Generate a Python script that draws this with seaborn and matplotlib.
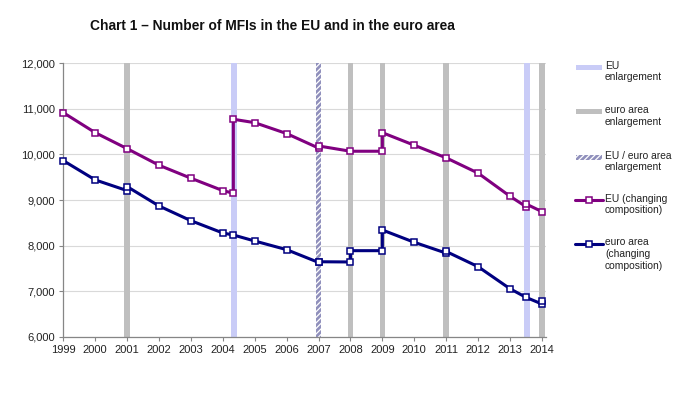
import numpy as np
import pandas as pd
import matplotlib
matplotlib.use("Agg")
import matplotlib.pyplot as plt
from matplotlib.lines import Line2D
from matplotlib.patches import Rectangle
from matplotlib.ticker import FuncFormatter
import seaborn as sns

# Number of MFIs (mid-year enlargements give two points at one date)
eu_years = [1999, 2000, 2001, 2002, 2003, 2004, 2004.33, 2004.33, 2005, 2006,
            2007, 2007, 2008, 2009, 2009, 2010, 2011, 2012, 2013, 2013.5, 2013.5, 2014]
eu_counts = [10917, 10478, 10127, 9763, 9478, 9206, 9149, 10772, 10697, 10458,
             10140, 10186, 10070, 10070, 10478, 10202, 9925, 9590, 9083, 8855, 8914, 8746]

ea_years = [1999, 2000, 2001, 2001, 2002, 2003, 2004, 2004.33, 2005, 2006, 2007, 2007,
            2008, 2008, 2009, 2009, 2010, 2011, 2011, 2012, 2013, 2013.5, 2014, 2014]
ea_counts = [9864, 9441, 9206, 9294, 8869, 8546, 8276, 8232, 8100, 7910, 7630, 7645,
             7640, 7888, 7888, 8342, 8072, 7834, 7870, 7537, 7053, 6864, 6718, 6790]

# Enlargement dates
eu_enlargements = [2004.35, 2013.53]
ea_enlargements = [2001, 2008, 2009, 2011, 2014]
both_enlargements = [2007]

year_ticks = list(range(1999, 2015))
y_ticks = [6000, 7000, 8000, 9000, 10000, 11000, 12000]

legend_labels = ["EU\nenlargement", "euro area\nenlargement", "EU / euro area\nenlargement",
                 "EU (changing\ncomposition)", "euro area\n(changing\ncomposition)"]

EU_COL = "#800080"
EA_COL = "#000080"
EU_BAND = "#C9CCF7"
EA_BAND = "#BFBFBF"
BOTH_BAND = "#9090BC"

sns.set_theme(style="ticks")
plt.rcParams["font.family"] = ["Liberation Sans", "DejaVu Sans"]
plt.rcParams["hatch.color"] = "#D4D4EA"
plt.rcParams["hatch.linewidth"] = 0.9

fig = plt.figure(figsize=(7, 3.98), dpi=100)
W, H = 700, 398
ax = fig.add_axes([63.3 / W, 1 - 336.7 / H, (545.7 - 63.3) / W, (336.7 - 63.3) / H])

bw = 0.085
for x in eu_enlargements:
    ax.axvspan(x - bw, x + bw, color=EU_BAND, lw=0, zorder=1)
for x in ea_enlargements:
    ax.axvspan(x - bw, x + bw, color=EA_BAND, lw=0, zorder=1)
for x in both_enlargements:
    ax.axvspan(x - bw, x + bw, facecolor=BOTH_BAND, hatch="//////", lw=0, zorder=1)

eu_df = pd.DataFrame({"year": eu_years, "mfis": eu_counts})
ea_df = pd.DataFrame({"year": ea_years, "mfis": ea_counts})
line_kw = dict(estimator=None, sort=False, linewidth=2.2, marker="s", markersize=5,
               markerfacecolor="white", markeredgewidth=1.1, zorder=3, clip_on=False)
sns.lineplot(data=eu_df, x="year", y="mfis", color=EU_COL, markeredgecolor=EU_COL, ax=ax, **line_kw)
sns.lineplot(data=ea_df, x="year", y="mfis", color=EA_COL, markeredgecolor=EA_COL, ax=ax, **line_kw)

ax.set_xlim(1999, 2014.12)
ax.set_ylim(6000, 12000)
ax.set_xticks(year_ticks)
ax.set_yticks(y_ticks)
ax.yaxis.set_major_formatter(FuncFormatter(lambda v, p: f"{int(v):,}"))
ax.set_xlabel("")
ax.set_ylabel("")
ax.grid(axis="y", color="#D9D9D9", lw=0.8)
ax.grid(axis="x", visible=False)
ax.set_axisbelow(True)
for s in ["top", "right"]:
    ax.spines[s].set_visible(False)
for s in ["left", "bottom"]:
    ax.spines[s].set_color("#868686")
    ax.spines[s].set_linewidth(0.9)
ax.tick_params(axis="both", labelsize=8, length=3, width=0.8, color="#868686",
               labelcolor="#222222", pad=3)

fig.text(90 / W, 1 - 26 / H, "Chart 1 \u2013 Number of MFIs in the EU and in the euro area",
         fontsize=9.9, fontweight="bold", va="center", ha="left", color="#111111")

# legend drawn by hand so that handles sit beside the first line of each label
entry_y = [67.3, 111.7, 157.3, 200, 244]
for i, (lab, yy) in enumerate(zip(legend_labels, entry_y)):
    yf = 1 - yy / H
    if i < 3:
        fc = [EU_BAND, EA_BAND, BOTH_BAND][i]
        rect = Rectangle((576 / W, yf - 2.5 / H), 26 / W, 5 / H, transform=fig.transFigure,
                         facecolor=fc, lw=0, hatch="//////" if i == 2 else None)
        fig.add_artist(rect)
    else:
        col = EU_COL if i == 3 else EA_COL
        fig.add_artist(Line2D([575 / W, 603 / W], [yf, yf], transform=fig.transFigure,
                              color=col, lw=2.2))
        fig.add_artist(Line2D([589 / W], [yf], transform=fig.transFigure, marker="s",
                              markersize=5, markerfacecolor="white", markeredgecolor=col,
                              markeredgewidth=1.1))
    fig.text(605 / W, 1 - (yy - 6.5) / H, lab, fontsize=7.4, va="top", ha="left",
             color="#222222", linespacing=1.2)

fig.savefig("out.png", dpi=100)
